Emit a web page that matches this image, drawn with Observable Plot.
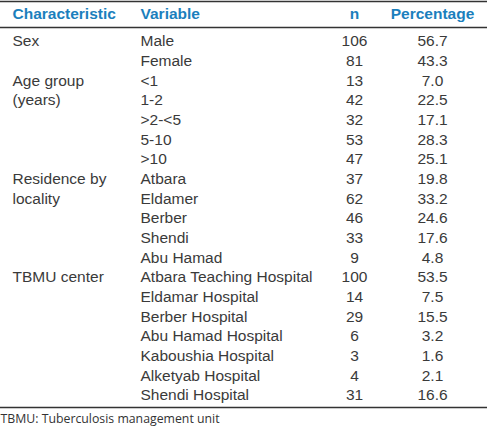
<!DOCTYPE html>
<html>
<head>
<meta charset="utf-8">
<script src="https://cdn.jsdelivr.net/npm/d3@7"></script>
<script src="https://cdn.jsdelivr.net/npm/@observablehq/plot@0.6"></script>
<style>
  html, body { margin: 0; padding: 0; background: #fff; overflow: hidden; }
  #chart svg { display: block; }
</style>
</head>
<body>
<div id="chart"></div>
<script>
// ---- data ----
const headers = ["Characteristic", "Variable", "n", "Percentage"];
const characteristicLines = ["Sex", "Age group", "(years)", "Residence by", "locality", "TBMU center"];
const characteristicRows = [0, 2, 3, 7, 8, 12];
const variables = ["Male", "Female", "<1", "1-2", ">2-<5", "5-10", ">10",
  "Atbara", "Eldamer", "Berber", "Shendi", "Abu Hamad",
  "Atbara Teaching Hospital", "Eldamar Hospital", "Berber Hospital", "Abu Hamad Hospital",
  "Kaboushia Hospital", "Alketyab Hospital", "Shendi Hospital"];
const counts = [106, 81, 13, 42, 32, 53, 47, 37, 62, 46, 33, 9, 100, 14, 29, 6, 3, 4, 31];
const percentages = [56.7, 43.3, 7.0, 22.5, 17.1, 28.3, 25.1, 19.8, 33.2, 24.6, 17.6, 4.8, 53.5, 7.5, 15.5, 3.2, 1.6, 2.1, 16.6];
const footnote = "TBMU: Tuberculosis management unit";

// ---- layout ----
const colX = {Characteristic: 12, Variable: 140, n: 354, Percentage: 432};
const rows = variables.map((v, i) => ({row: i, variable: v, n: counts[i], pct: percentages[i]}));
const charRows = characteristicLines.map((t, i) => ({row: characteristicRows[i], text: t}));
const leftHeaders = headers.slice(0, 2).map(h => ({h}));
const rightHeaders = headers.slice(2).map(h => ({h}));

const textColor = "#3a3a3a";
const headColor = "#1b7fbd";
const fontFamily = "Liberation Sans, Arial, sans-serif";

const plot = Plot.plot({
  width: 487,
  height: 427,
  marginTop: 1,
  marginBottom: 20,
  marginLeft: 0,
  marginRight: 0,
  x: {type: "identity", axis: null},
  y: {domain: [0, 18], range: [41, 395], axis: null},
  style: {fontFamily, fontSize: "15.5px", color: textColor, background: "#fff"},
  marks: [
    Plot.frame({anchor: "top", stroke: "#333", strokeWidth: 1.5}),
    Plot.frame({anchor: "bottom", stroke: "#333", strokeWidth: 1.5}),
    Plot.ruleY([0], {stroke: "#333", strokeWidth: 1.5, dy: -14}),
    // header
    Plot.text(leftHeaders, {
      x: d => colX[d.h], frameAnchor: "top", dy: 13,
      text: "h", fill: headColor, fontWeight: "bold",
      textAnchor: "start", lineAnchor: "middle"
    }),
    Plot.text(rightHeaders, {
      x: d => colX[d.h], frameAnchor: "top", dy: 13,
      text: "h", fill: headColor, fontWeight: "bold",
      fontStyle: d => d.h === "n" ? "italic" : "normal",
      textAnchor: "middle", lineAnchor: "middle"
    }),
    // characteristic column
    Plot.text(charRows, {x: () => colX.Characteristic, y: "row", text: "text", textAnchor: "start", fill: textColor}),
    // variable column
    Plot.text(rows, {x: () => colX.Variable, y: "row", text: "variable", textAnchor: "start", fill: textColor}),
    // n column
    Plot.text(rows, {x: () => colX.n, y: "row", text: d => String(d.n), textAnchor: "middle", fill: textColor}),
    // percentage column
    Plot.text(rows, {x: () => colX.Percentage, y: "row", text: d => d.pct.toFixed(1), textAnchor: "middle", fill: textColor}),
    // footnote
    Plot.text([footnote], {
      frameAnchor: "bottom-left", dy: 12, text: d => d, textAnchor: "start", lineAnchor: "middle",
      fontFamily: "Open Sans, sans-serif", fontSize: 12.3, fill: "#333"
    })
  ]
});
document.getElementById("chart").appendChild(plot);
</script>
</body>
</html>
